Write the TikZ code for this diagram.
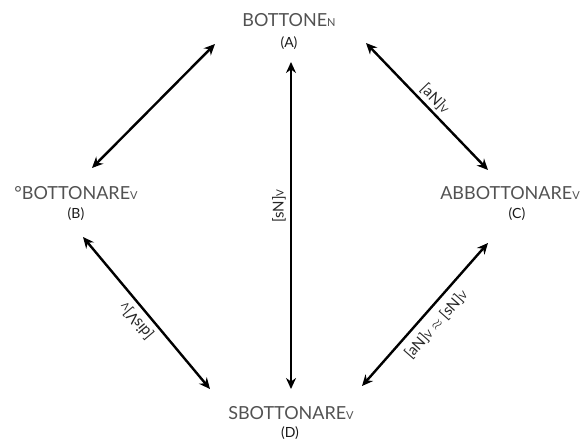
\documentclass[tikz,border=0pt]{standalone}
\usepackage{fontspec}
\setmainfont{Lato}
\usetikzlibrary{arrows.meta}
\newcommand\lsub[1]{{\fontsize{11}{11}\selectfont #1}}
\newcommand\esub[1]{{\fontsize{10}{10}\selectfont #1}}
\begin{document}
\begin{tikzpicture}[x=1pt,y=-1pt,
  word/.style={font=\fontsize{18}{20}\selectfont, text=black!68, inner sep=0pt},
  tag/.style={font=\fontsize{14}{16}\selectfont, text=black!90, inner sep=0pt},
  rel/.style={line width=2.4pt, {Stealth[length=11pt,width=10pt]}-{Stealth[length=11pt,width=10pt]}},
  lab/.style={font=\fontsize{15}{17}\selectfont, text=black!85, inner sep=3pt}]
\useasboundingbox (0,0) rectangle (581,442);
% vertex labels
\node[word] (A) at (289,20) {BOTTONE\lsub{N}};
\node[tag] (Atag) at (289,43) {(A)};
\node[word] (B) at (76,193) {°BOTTONARE\lsub{V}};
\node[tag] (Btag) at (76,214) {(B)};
\node[word] (C) at (510,193) {ABBOTTONARE\lsub{V}};
\node[tag] (Ctag) at (517,214) {(C)};
\node[word] (D) at (291,413) {SBOTTONARE\lsub{V}};
\node[tag] (Dtag) at (290,433) {(D)};
% arrow ends
\coordinate (AB) at (215,44);
\coordinate (BA) at (92,168);
\coordinate (AC) at (366,43);
\coordinate (CA) at (488,170);
\coordinate (AD) at (291,62);
\coordinate (DA) at (291,389);
\coordinate (BD) at (83,237);
\coordinate (DB) at (210,389);
\coordinate (CD) at (488,243);
\coordinate (DC) at (362,386);
% connectors
\draw[rel] (AB) -- (BA);
\draw[rel] (AC) -- node[lab, pos=0.5, rotate=-46, anchor=south] {[aN]\esub{V}} (CA);
\draw[rel] (AD) -- node[lab, pos=0.44, rotate=90, anchor=south, inner sep=4pt] {[sN]\esub{V}} (DA);
\draw[rel] (BD) -- node[lab, pos=0.5, rotate=130, anchor=south, inner sep=5pt] {[disV]\esub{V}} (DB);
\draw[rel] (CD) -- node[lab, pos=0.5, rotate=48.6, anchor=north, inner sep=7pt] {[aN]\esub{V} $\approx$ [sN]\esub{V}} (DC);
\end{tikzpicture}
\end{document}
